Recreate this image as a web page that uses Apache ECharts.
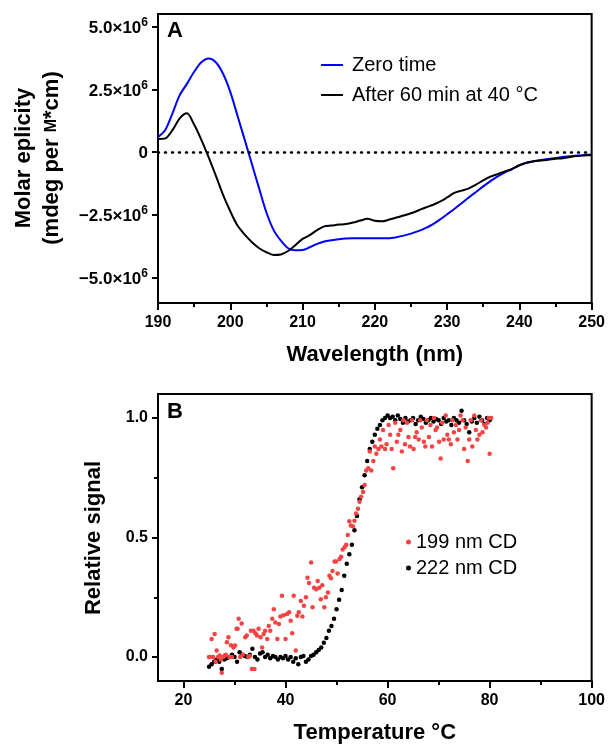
<!DOCTYPE html>
<html><head><meta charset="utf-8">
<script src="https://cdn.jsdelivr.net/npm/echarts@6/dist/echarts.min.js"></script>
<style>html,body{margin:0;padding:0;background:#fff}#c{width:608px;height:745px}</style>
</head><body><div id="c"></div>
<script>
// ---------- Panel A: CD spectra ----------
const wavelengths = [190,191,192,193,194,195,196,197,198,199,200,201,202,203,204,205,206,207,208,209,210,
  211,212,213,214,215,216,217,218,219,220,221,222,223,224,225,226,227,228,229,230,
  231,232,233,234,235,236,237,238,239,240,241,242,243,244,245,246,247,248,249,250];
const zeroTime = [0.60,0.88,1.55,2.27,2.72,3.20,3.58,3.73,3.58,3.12,2.40,1.45,0.49,-0.48,-1.45,-2.40,-3.10,-3.52,-3.82,-3.90,-3.89,
  -3.78,-3.65,-3.55,-3.50,-3.46,-3.43,-3.42,-3.42,-3.42,-3.42,-3.42,-3.42,-3.38,-3.32,-3.24,-3.14,-3.02,-2.87,-2.68,-2.47,
  -2.26,-2.03,-1.80,-1.58,-1.36,-1.15,-0.96,-0.80,-0.67,-0.52,-0.42,-0.36,-0.31,-0.27,-0.23,-0.19,-0.16,-0.13,-0.11,-0.09];
const after60min = [0.53,0.55,0.88,1.35,1.55,1.10,0.49,-0.20,-0.93,-1.70,-2.35,-2.92,-3.28,-3.58,-3.82,-3.98,-4.09,-4.07,-3.93,-3.70,-3.45,
  -3.30,-3.10,-2.95,-2.92,-2.88,-2.86,-2.80,-2.72,-2.65,-2.73,-2.75,-2.68,-2.60,-2.52,-2.43,-2.32,-2.20,-2.10,-1.97,-1.80,
  -1.62,-1.53,-1.44,-1.29,-1.12,-0.97,-0.87,-0.76,-0.66,-0.52,-0.42,-0.36,-0.33,-0.30,-0.26,-0.24,-0.19,-0.15,-0.13,-0.11];
const unitA = 1e6;
const yTicksA = [-5e6, -2.5e6, 0, 2.5e6, 5e6];

// ---------- Panel B: thermal melts ----------
const temps222 = [25,25.5,26,26.5,27,27.5,28,28.5,29,29.5,30,30.5,31,31.5,32,32.5,33,33.5,34,34.5,35,35.5,36,36.5,37,37.5,38,38.5,39,39.5,
  40,40.5,41,41.5,42,42.5,43,43.5,44,44.5,45,45.5,46,46.5,47,47.5,48,48.5,49,49.5,50,50.5,51,51.5,52,52.5,53,53.5,54,54.5,
  55,55.5,56,56.5,57,57.5,58,58.5,59,59.5,60,60.5,61,61.5,62,62.5,63,63.5,64,64.5,65,65.5,66,66.5,67,67.5,68,68.5,69,69.5,
  70,70.5,71,71.5,72,72.5,73,73.5,74,74.5,75,75.5,76,76.5,77,77.5,78,78.5,79,79.5,80];
const signal222 = [-0.04,-0.03,-0.02,-0.01,-0.02,-0.05,-0.01,-0.005,0.0,0.01,0.0,-0.02,0.02,0.01,0.005,0.0,0.01,0.035,0.0,-0.01,
  0.015,0.02,0.0,0.01,-0.005,0.005,0.0,-0.01,0.0,-0.005,0.005,-0.01,0.0,-0.02,-0.005,-0.03,0.0,0.005,-0.02,-0.01,
  0.005,0.01,0.02,0.03,0.04,0.06,0.08,0.11,0.13,0.16,0.2,0.24,0.28,0.34,0.39,0.43,0.47,0.53,0.59,0.66,
  0.71,0.76,0.82,0.87,0.9,0.93,0.955,0.97,0.99,1.0,1.01,1.0,1.005,0.99,1.01,0.995,0.98,1.0,0.985,0.99,
  1.0,0.975,0.99,1.005,0.995,0.98,0.99,1.0,0.985,0.995,0.99,0.975,1.0,0.985,0.99,0.97,1.0,0.99,0.98,1.03,
  0.99,0.975,0.94,0.985,1.0,0.98,1.005,0.99,0.975,1.0,0.99];
const temps199 = [25.0,25.2,25.5,25.8,26.1,26.3,26.5,26.8,27.1,27.3,27.5,27.8,28.1,28.3,28.5,28.8,29.0,29.3,29.5,29.8,
  30.1,30.4,30.6,30.8,31.1,31.4,31.6,32.1,32.4,32.7,33.0,33.2,33.4,33.7,33.9,34.1,34.4,34.7,35.1,35.4,
  35.7,36.0,36.4,36.7,37.0,37.4,37.7,38.0,38.4,38.7,39.0,39.3,39.6,40.0,40.3,40.7,41.0,41.3,41.6,42.0,
  42.3,42.6,43.0,43.3,43.6,44.0,44.3,44.6,45.0,45.3,45.6,46.0,46.3,46.6,46.9,47.2,47.6,47.9,48.3,48.6,
  48.9,49.2,49.6,49.9,50.2,50.6,50.9,51.2,51.6,51.9,52.2,52.5,52.8,53.2,53.5,53.8,54.2,54.5,54.8,55.2,
  55.5,55.8,56.2,56.5,56.8,57.2,57.5,57.8,58.2,58.5,58.8,59.1,59.5,59.8,60.2,60.5,60.8,61.1,61.5,61.8,
  62.1,62.5,62.8,63.1,63.4,63.8,64.1,64.4,64.8,65.1,65.4,65.7,66.1,66.4,66.7,67.1,67.4,67.7,68.1,68.4,
  68.7,69.1,69.4,69.7,70.1,70.4,70.7,71.0,71.4,71.7,72.0,72.4,72.7,73.0,73.4,73.7,74.0,74.3,74.7,75.0,
  75.3,75.7,76.0,76.3,76.6,77.0,77.3,77.6,78.0,78.3,78.6,79.0,79.3,79.6,79.8,80.0,80.3];
const signal199 = [0.0,0.0,0.076,0.0,0.097,-0.02,0.028,0.0,0.007,-0.01,-0.065,0.0,0.007,0.01,0.062,0.083,0.0,0.05,0.0,0.04,
  0.048,0.118,0.118,0.16,0.0,0.14,0.01,0.083,0.09,0.0,0.005,0.11,-0.05,0.11,-0.05,0.1,0.09,0.118,0.083,0.04,
  0.097,0.11,0.076,0.13,0.11,0.16,0.2,0.145,0.076,0.138,0.17,0.256,0.175,0.076,0.18,0.187,0.152,0.10,0.256,0.028,
  0.173,0.187,0.235,0.17,0.215,0.25,0.332,0.31,0.395,0.208,0.29,0.284,0.318,0.29,0.242,0.3,0.208,0.25,0.27,0.34,
  0.33,0.36,0.40,0.4,0.35,0.41,0.42,0.45,0.46,0.47,0.51,0.568,0.55,0.547,0.57,0.6,0.62,0.65,0.67,0.69,
  0.72,0.78,0.79,0.86,0.78,0.82,0.88,0.85,0.87,0.91,0.88,0.95,0.87,0.89,0.97,0.93,0.87,0.79,0.98,0.90,
  0.93,0.95,0.86,0.99,0.89,0.98,0.92,0.88,0.99,0.87,0.92,0.94,0.91,0.99,0.96,0.9,0.88,0.99,0.92,0.97,
  0.88,1.0,0.95,0.96,0.9,0.83,0.98,0.91,1.01,0.93,0.91,0.89,0.99,0.94,0.97,0.91,0.95,1.01,0.99,0.87,
  0.96,0.82,0.91,0.99,0.88,1.01,0.95,0.91,0.93,0.99,0.94,0.97,0.96,0.98,1.0,0.85,1.0];
const xTicksB = [20, 40, 60, 80, 100];
const xMinorB = [30, 50, 70, 90];
const yTicksB = [0, 0.5, 1.0];
const yMinorB = [0.25, 0.75];

const FONT = '"Liberation Sans", Arial, Helvetica, sans-serif';
const chart = echarts.init(document.getElementById('c'), null, {renderer: 'canvas'});

const tickStyle = {lineStyle: {color: '#000', width: 2}};
const labelBase = {color: '#000', fontSize: 16, fontWeight: 'bold', fontFamily: FONT};

function fmtA(v) {
  if (Math.abs(v) < 1) return '{m|0}';
  const s = (Math.abs(v) / unitA).toFixed(1);
  return '{m|' + (v < 0 ? '\u2212' : '') + s + '\u00d710}{s|6}';
}

const option = {
  animation: false,
  backgroundColor: '#fff',
  textStyle: {fontFamily: FONT},
  grid: [
    {left: 158, top: 14, width: 435, height: 289, show: true, borderColor: '#000', borderWidth: 2, backgroundColor: 'transparent'},
    {left: 158, top: 394, width: 435, height: 289, show: true, borderColor: '#000', borderWidth: 2, backgroundColor: 'transparent'}
  ],
  xAxis: [
    {gridIndex: 0, type: 'value', min: 190, max: 250, interval: 10, position: 'bottom',
     axisLine: {show: true, onZero: false, lineStyle: {color: '#000', width: 2}},
     axisTick: Object.assign({length: 7}, tickStyle),
     minorTick: {show: true, splitNumber: 2, length: 4, lineStyle: {color: '#000', width: 2}},
     splitLine: {show: false}, minorSplitLine: {show: false},
     axisLabel: Object.assign({margin: 12}, labelBase),
     name: 'Wavelength (nm)', nameLocation: 'middle', nameGap: 41,
     nameTextStyle: {color: '#000', fontSize: 22, fontWeight: 'bold', fontFamily: FONT}},
    {gridIndex: 1, type: 'value', min: 15, max: 100, position: 'bottom',
     axisLine: {show: true, onZero: false, lineStyle: {color: '#000', width: 2}},
     axisTick: Object.assign({length: 7, customValues: xTicksB}, tickStyle),
     splitLine: {show: false},
     axisLabel: Object.assign({margin: 12, customValues: xTicksB}, labelBase),
     name: 'Temperature \u00b0C', nameLocation: 'middle', nameGap: 41,
     nameTextStyle: {color: '#000', fontSize: 22, fontWeight: 'bold', fontFamily: FONT}},
    {gridIndex: 1, type: 'value', min: 15, max: 100, position: 'bottom', offset: 0,
     axisLine: {show: false, onZero: false}, axisLabel: {show: false}, splitLine: {show: false},
     axisTick: Object.assign({length: 4, customValues: xMinorB}, tickStyle)}
  ],
  yAxis: [
    {gridIndex: 0, type: 'value', min: -6e6, max: 5.5e6, position: 'left',
     axisLine: {show: true, onZero: false, lineStyle: {color: '#000', width: 2}},
     axisTick: Object.assign({length: 6, customValues: yTicksA}, tickStyle),
     splitLine: {show: false},
     axisLabel: {customValues: yTicksA, margin: 10, formatter: fmtA,
       rich: {m: {color: '#000', fontSize: 17, fontWeight: 'bold', fontFamily: FONT, verticalAlign: 'bottom', lineHeight: 20},
              s: {color: '#000', fontSize: 12, fontWeight: 'bold', fontFamily: FONT, verticalAlign: 'top', lineHeight: 20}}}},
    {gridIndex: 1, type: 'value', min: -0.1, max: 1.1, position: 'left',
     axisLine: {show: true, onZero: false, lineStyle: {color: '#000', width: 2}},
     axisTick: Object.assign({length: 6, customValues: yTicksB}, tickStyle),
     splitLine: {show: false},
     axisLabel: Object.assign({margin: 10, customValues: yTicksB, formatter: v => v.toFixed(1)}, labelBase)},
    {gridIndex: 1, type: 'value', min: -0.1, max: 1.1, position: 'left', offset: 0,
     axisLine: {show: false, onZero: false}, axisLabel: {show: false}, splitLine: {show: false},
     axisTick: Object.assign({length: 4, customValues: yMinorB}, tickStyle)}
  ],
  legend: [
    {data: ['Zero time', 'After 60 min at 40 \u00b0C'], orient: 'vertical', left: 316, top: 50,
     icon: 'rect', itemWidth: 22, itemHeight: 2, itemGap: 10,
     textStyle: {color: '#000', fontSize: 20, fontFamily: FONT, padding: [0, 0, 0, 4]}},
    {data: ['199 nm CD', '222 nm CD'], orient: 'vertical', left: 401, top: 527,
     icon: 'circle', itemWidth: 5, itemHeight: 5, itemGap: 6,
     textStyle: {color: '#000', fontSize: 20, fontFamily: FONT, padding: [0, 0, 0, 0]}}
  ],
  graphic: [
    {type: 'text', left: 167, top: 20, style: {text: 'A', fill: '#000', font: 'bold 22px ' + FONT}},
    {type: 'text', left: 167, top: 401, style: {text: 'B', fill: '#000', font: 'bold 22px ' + FONT}},
    {type: 'text', x: 38, y: 158, rotation: Math.PI / 2,
     style: {text: 'Molar eplicity\n(mdeg per {sc|M}*cm)', align: 'center', verticalAlign: 'middle',
       fill: '#000', fontSize: 22, fontWeight: 'bold', fontFamily: FONT, lineHeight: 28,
       rich: {sc: {fontSize: 16, fontWeight: 'bold', fontFamily: FONT, fill: '#000', lineHeight: 28}}}},
    {type: 'text', x: 94, y: 538, rotation: Math.PI / 2,
     style: {text: 'Relative signal', align: 'center', verticalAlign: 'middle',
       fill: '#000', fontSize: 22, fontWeight: 'bold', fontFamily: FONT}}
  ],
  series: [
    {name: 'Zero time', type: 'line', xAxisIndex: 0, yAxisIndex: 0, symbol: 'none', smooth: 0.3,
     lineStyle: {color: '#0000ff', width: 2}, itemStyle: {color: '#0000ff'},
     data: wavelengths.map((w, i) => [w, zeroTime[i] * unitA]),
     markLine: {silent: true, symbol: 'none', label: {show: false},
       lineStyle: {color: '#000', type: [1, 6], width: 2.5, cap: 'round'},
       data: [{yAxis: 0}]}},
    {name: 'After 60 min at 40 \u00b0C', type: 'line', xAxisIndex: 0, yAxisIndex: 0, symbol: 'none', smooth: 0.3,
     lineStyle: {color: '#000', width: 2}, itemStyle: {color: '#000'},
     data: wavelengths.map((w, i) => [w, after60min[i] * unitA])},
    {name: '222 nm CD', type: 'scatter', xAxisIndex: 1, yAxisIndex: 1, symbolSize: 4.5,
     itemStyle: {color: '#000', opacity: 1},
     data: temps222.map((t, i) => [t, signal222[i]])},
    {name: '199 nm CD', type: 'scatter', xAxisIndex: 1, yAxisIndex: 1, symbolSize: 4.5,
     itemStyle: {color: '#f44444', opacity: 1},
     data: temps199.map((t, i) => [t, signal199[i]])}
  ]
};
chart.setOption(option);
</script>
</body></html>
